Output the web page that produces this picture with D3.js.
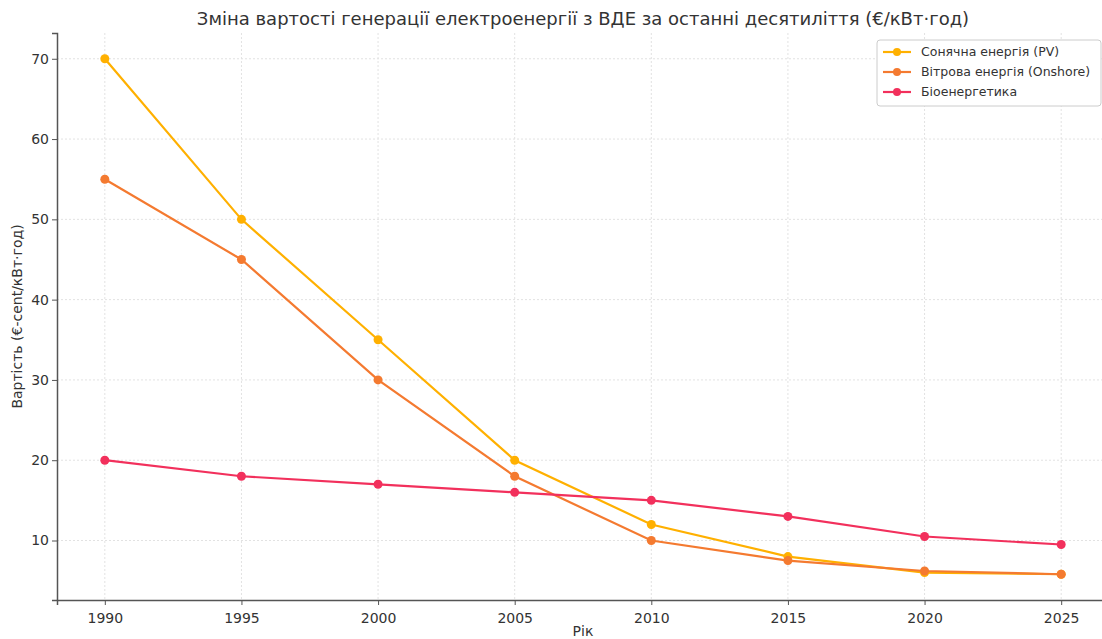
<!DOCTYPE html>
<html>
<head>
<meta charset="utf-8">
<script src="https://cdn.jsdelivr.net/npm/d3@7"></script>
<style>
  body { margin: 0; background: #fff; }
  svg text { font-family: "DejaVu Sans", sans-serif; fill: #333; }
  .axis path, .axis line { stroke: #555; }
  .grid line { stroke: #e2e2e2; stroke-dasharray: 2,2; }
</style>
</head>
<body>
<svg id="chart" width="1102" height="639"></svg>
<script>
// data
const years = [1990, 1995, 2000, 2005, 2010, 2015, 2020, 2025];
const solar = [70, 50, 35, 20, 12, 8, 6, 5.8];
const wind = [55, 45, 30, 18, 10, 7.5, 6.2, 5.8];
const bio = [20, 18, 17, 16, 15, 13, 10.5, 9.5];
const seriesNames = ["Сонячна енергія (PV)", "Вітрова енергія (Onshore)", "Біоенергетика"];
const seriesColors = ["#ffb000", "#f47a30", "#f2305c"];
const yTicks = [10, 20, 30, 40, 50, 60, 70];

const svg = d3.select("#chart");
const mLeft = 57, mRight = 1109, mTop = 33, mBottom = 600;

const x = d3.scaleLinear().domain([1988.25, 2026.75]).range([mLeft, mRight]);
const y = d3.scaleLinear().domain([2.59, 73.21]).range([mBottom, mTop]);

// grid
svg.append("g").attr("class", "grid")
  .selectAll("line").data(years).enter().append("line")
  .attr("x1", d => x(d)).attr("x2", d => x(d))
  .attr("y1", mTop).attr("y2", mBottom);
svg.append("g").attr("class", "grid")
  .selectAll("line").data(yTicks).enter().append("line")
  .attr("x1", mLeft).attr("x2", mRight)
  .attr("y1", d => y(d)).attr("y2", d => y(d));

const xAxis = svg.append("g").attr("class", "axis")
  .attr("transform", `translate(0,${mBottom})`)
  .call(d3.axisBottom(x).tickValues(years).tickFormat(d3.format("d")).tickSizeOuter(0).tickSize(5));
const yAxis = svg.append("g").attr("class", "axis")
  .attr("transform", `translate(${mLeft},0)`)
  .call(d3.axisLeft(y).tickValues(yTicks).tickSizeOuter(0).tickSize(5));
svg.selectAll(".axis path").attr("stroke-width", 1.5);
svg.selectAll(".axis text").style("font-size", "14px").style("fill", "#333");
xAxis.selectAll("text").attr("dy", "1.1em");

// title and labels
svg.append("text").attr("x", 583).attr("y", 25).attr("text-anchor", "middle")
  .style("font-size", "18px").text("Зміна вартості генерації електроенергії з ВДЕ за останні десятиліття (€/кВт·год)");
svg.append("text").attr("x", 583).attr("y", 636).attr("text-anchor", "middle")
  .style("font-size", "14px").text("Рік");
svg.append("text").attr("transform", `translate(22,${(mTop + mBottom) / 2}) rotate(-90)`)
  .attr("text-anchor", "middle").style("font-size", "14px").text("Вартість (€-cent/кВт·год)");

const allSeries = [solar, wind, bio];
const line = d3.line().x((d, i) => x(years[i])).y(d => y(d));

allSeries.forEach((s, k) => {
  svg.append("path").datum(s)
    .attr("fill", "none").attr("stroke", seriesColors[k]).attr("stroke-width", 2.2)
    .attr("d", line);
  svg.append("g").selectAll("circle").data(s).enter().append("circle")
    .attr("cx", (d, i) => x(years[i])).attr("cy", d => y(d)).attr("r", 4.5)
    .attr("fill", seriesColors[k]);
});

// legend
const lg = svg.append("g").attr("transform", "translate(877,40)");
lg.append("rect").attr("width", 224).attr("height", 66).attr("rx", 3)
  .attr("fill", "#fff").attr("stroke", "#ccc");
seriesNames.forEach((n, k) => {
  const g = lg.append("g").attr("transform", `translate(6,${12 + k * 20})`);
  g.append("line").attr("x1", 0).attr("x2", 28).attr("stroke", seriesColors[k]).attr("stroke-width", 2.2);
  g.append("circle").attr("cx", 14).attr("r", 4).attr("fill", seriesColors[k]);
  g.append("text").attr("x", 38).attr("dy", "0.35em").style("font-size", "12.5px").text(n);
});
</script>
</body>
</html>
